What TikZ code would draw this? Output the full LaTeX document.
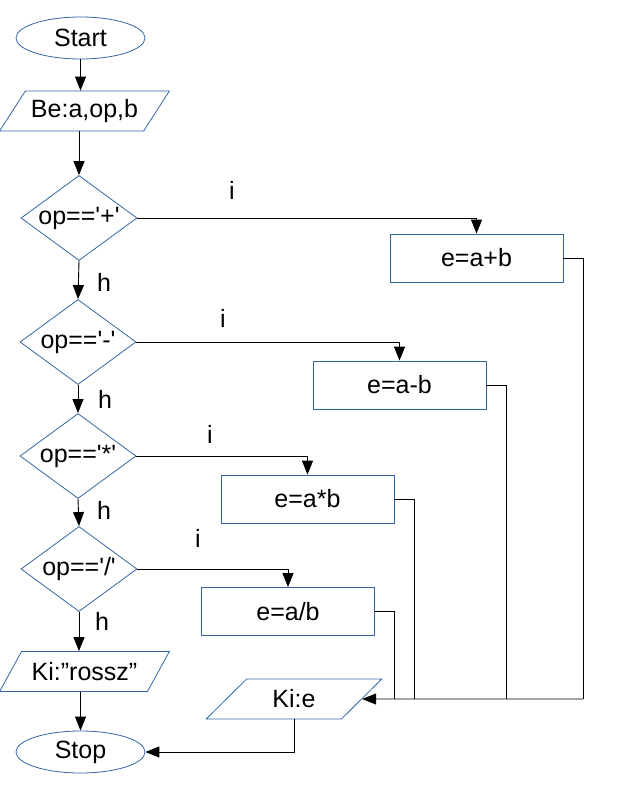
\documentclass[tikz,border=0pt]{standalone}
\usepackage{fontspec}
\setmainfont{Liberation Sans}
\usetikzlibrary{shapes.geometric,arrows.meta}
\definecolor{shapeblue}{RGB}{52,101,164}
\newcommand{\sq}{\textquotesingle}
\tikzset{
  base/.style={draw=shapeblue,line width=0.8pt,inner sep=0pt,font=\fontsize{25}{29}\selectfont},
  term/.style={base,ellipse,minimum width=129pt,minimum height=42pt},
  io/.style={base,trapezium,trapezium left angle=45,trapezium right angle=135,trapezium stretches=true,minimum width=170pt,minimum height=40pt},
  iosmall/.style={io,minimum width=176pt},
  decision/.style={base,diamond,aspect=1.365,minimum width=116pt,minimum height=85pt},
  proc/.style={base,rectangle,minimum width=173pt,minimum height=48pt},
  lbl/.style={inner sep=0pt,font=\fontsize{25}{29}\selectfont},
  conn/.style={line width=0.9pt,black},
  arr/.style={conn,-{Triangle[length=14pt,width=11pt]}}
}
\begin{document}
\begin{tikzpicture}[x=1pt,y=-1pt]
\useasboundingbox (0,0) rectangle (643,794);
% main column
\node[term] (start) at (80.5,38) {Start};
\node[io] (be) at (84.5,111) {Be:a,op,b};
\node[decision] (d1) at (79,218) {op==\sq+\sq};
\node[decision] (d2) at (78,342) {op==\sq-\sq};
\node[decision] (d3) at (78,456) {op==\sq*\sq};
\node[decision] (d4) at (79,569) {op==\sq/\sq};
\node[io] (rossz) at (84.5,671.5) {Ki:”rossz”};
\node[term] (stop) at (80.5,752) {Stop};
% process boxes
\node[proc] (b1) at (476.5,258) {e=a+b};
\node[proc] (b2) at (399.5,385) {e=a-b};
\node[proc] (b3) at (307.5,499) {e=a*b};
\node[proc] (b4) at (288,611.5) {e=a/b};
\node[iosmall] (kie) at (294,699) {Ki:e};
% labels
\node[lbl] (i1) at (232,190) {i};
\node[lbl] (i2) at (223,318) {i};
\node[lbl] (i3) at (210,434) {i};
\node[lbl] (i4) at (198,538) {i};
\node[lbl] (h1) at (104,282) {h};
\node[lbl] (h2) at (105,399) {h};
\node[lbl] (h3) at (104,510) {h};
\node[lbl] (h4) at (102,621) {h};
% merge points
\coordinate (m1) at (583,699);
\coordinate (m2) at (506,699);
\coordinate (m3) at (414,699);
\coordinate (m4) at (394,699);
% connectors main column
\draw[arr] (start.south) -- (start.south |- be.north);
\draw[arr] (d1.north |- be.south) -- (d1.north);
\draw[arr] (d1.south) -- (d2.north);
\draw[arr] (d2.south) -- (d3.north);
\draw[arr] (d3.south) -- (d4.north);
\draw[arr] (d4.south) -- (d4.south |- rossz.north);
\draw[arr] (stop.north |- rossz.south) -- (stop.north);
% yes branches
\draw[arr] (d1.east) -| (b1.north);
\draw[arr] (d2.east) -| (b2.north);
\draw[arr] (d3.east) -| (b3.north);
\draw[arr] (d4.east) -| (b4.north);
% returns
\draw[conn] (b1.east) -| (m1);
\draw[conn] (b2.east) -| (m2);
\draw[conn] (b3.east) -| (m3);
\draw[conn] (b4.east) -| (m4);
\draw[arr] (m1) -- (kie.east);
\draw[arr] (kie.south) |- (stop.east);
\end{tikzpicture}
\end{document}
